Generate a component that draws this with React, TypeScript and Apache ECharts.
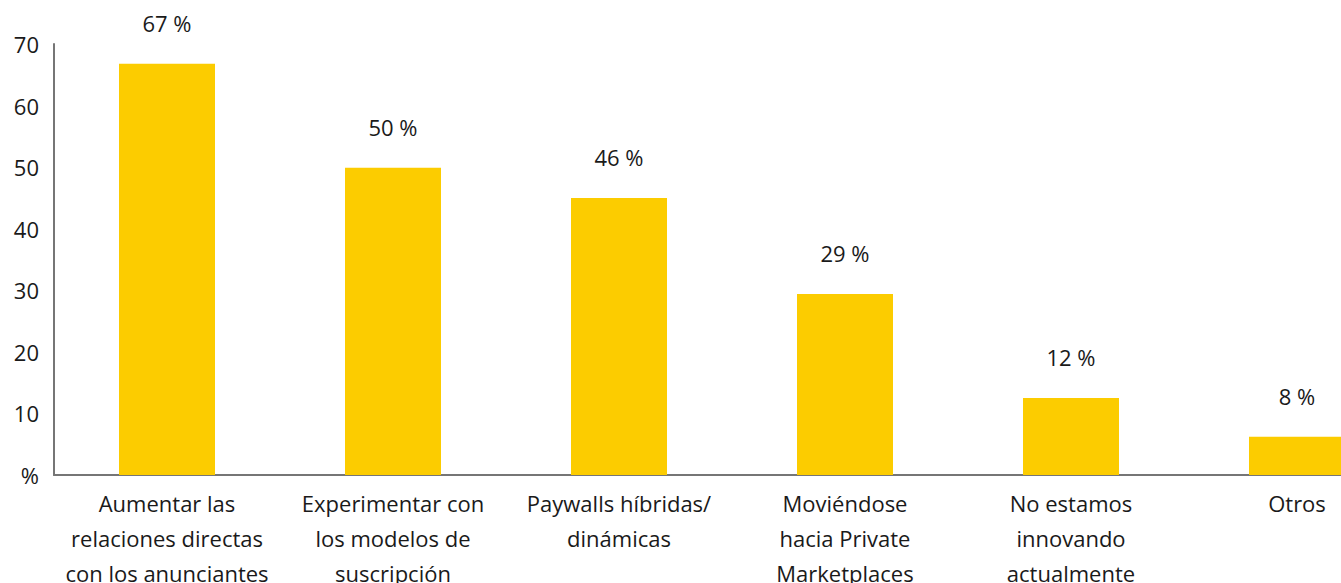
import React, { useEffect, useRef } from "react";
import * as echarts from "echarts";

const categories = [
  "Aumentar las\nrelaciones directas\ncon los anunciantes",
  "Experimentar con\nlos modelos de\nsuscripción",
  "Paywalls híbridas/\ndinámicas",
  "Moviéndose\nhacia Private\nMarketplaces",
  "No estamos\ninnovando\nactualmente",
  "Otros",
];
const barValues = [66.8, 49.9, 45.0, 29.4, 12.5, 6.2];
const valueLabels = ["67 %", "50 %", "46 %", "29 %", "12 %", "8 %"];
const yTicks = ["%", "10", "20", "30", "40", "50", "60", "70"];

const FONT = "'Open Sans', 'Noto Sans', sans-serif";

export default function App() {
  const ref = useRef<HTMLDivElement>(null);
  useEffect(() => {
    document.body.style.margin = "0";
    document.body.style.overflow = "hidden";
    const chart = echarts.init(ref.current!, undefined, { renderer: "svg" });
    chart.setOption({
      animation: false,
      backgroundColor: "#ffffff",
      grid: {
        left: 54,
        top: 44,
        width: 1356,
        height: 431,
        containLabel: false,
        outerBoundsMode: "none",
      },
      xAxis: {
        type: "category",
        data: categories,
        axisLine: { show: true, lineStyle: { color: "#767676", width: 2 } },
        axisTick: { show: false },
        axisLabel: {
          interval: 0,
          color: "#1a1a1a",
          fontFamily: FONT,
          fontSize: 22,
          lineHeight: 35,
          margin: 10,
        },
      },
      yAxis: {
        type: "value",
        min: 0,
        max: 70,
        interval: 10,
        splitLine: { show: false },
        axisLine: { show: true, lineStyle: { color: "#767676", width: 2 } },
        axisTick: { show: false },
        axisLabel: {
          color: "#1a1a1a",
          fontFamily: FONT,
          fontSize: 22,
          margin: 15,
          formatter: (v: number) => yTicks[Math.round(v / 10)],
        },
      },
      series: [
        {
          type: "bar",
          data: barValues,
          barWidth: 96,
          itemStyle: { color: "#FCCC00" },
          label: {
            show: true,
            position: "top",
            distance: 30,
            color: "#1a1a1a",
            fontFamily: FONT,
            fontSize: 22,
            formatter: (p: any) => valueLabels[p.dataIndex],
          },
        },
      ],
    });
    return () => chart.dispose();
  }, []);
  return (
    <div style={{ position: "fixed", left: 0, top: 0, width: 1341, height: 583, overflow: "hidden" }}>
      <div ref={ref} style={{ width: 1420, height: 583 }} />
    </div>
  );
}
